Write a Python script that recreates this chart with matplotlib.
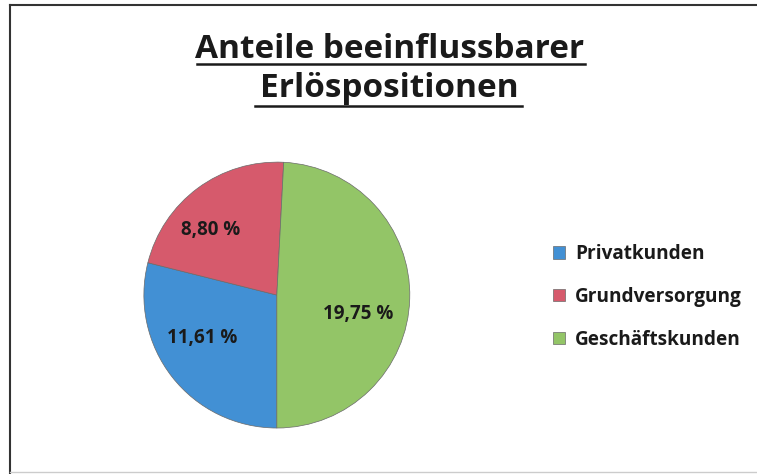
import matplotlib.pyplot as plt
from matplotlib.lines import Line2D

plt.rcParams['font.family'] = ['Open Sans', 'DejaVu Sans']

# data
categories = ['Privatkunden', 'Grundversorgung', 'Geschäftskunden']
values = [11.61, 8.80, 19.75]
colors = ['#4290d4', '#d65a6c', '#93c567']
title = 'Anteile beeinflussbarer\nErlöspositionen'

total = sum(values)


def fmt_value(pct):
    return '{:.2f} %'.format(pct * total / 100).replace('.', ',')


fig = plt.figure(figsize=(7.57, 4.74), dpi=100)

# pie axes (center ~ (277, 295) px, radius ~133 px)
ax = fig.add_axes([0.190, 0.097, 0.3514, 0.561])
wedges, texts, autotexts = ax.pie(values, colors=colors, startangle=270,
                                  counterclock=False, autopct=fmt_value,
                                  pctdistance=0.66, radius=1.0,
                                  wedgeprops=dict(linewidth=0.5, edgecolor='#6a6a6a'),
                                  textprops=dict(fontsize=13.5, fontweight='bold',
                                                 color='#1a1a1a'))
# label spots as in the original (Excel puts them a bit off the mid angle)
label_pos = [(-0.56, -0.32), (-0.50, 0.49), (0.61, -0.14)]
for t, p in zip(autotexts, label_pos):
    t.set_position(p)
ax.set_aspect('equal')
ax.set_xlim(-1.0, 1.0)
ax.set_ylim(-1.0, 1.0)

fig.text(0.514, 0.855, title, ha='center', va='center', fontsize=24,
         fontweight='bold', color='#1a1a1a', linespacing=1.24)
# underline for each title line
fig.add_artist(Line2D([0.260, 0.773], [0.866, 0.866], color='#1a1a1a', lw=1.8))
fig.add_artist(Line2D([0.337, 0.690], [0.776, 0.776], color='#1a1a1a', lw=1.8))

leg = fig.legend(wedges, categories, loc='center left',
                 bbox_to_anchor=(0.708, 0.374), frameon=False,
                 prop=dict(size=13.7, weight='bold'), labelspacing=1.2,
                 handlelength=0.65, handleheight=0.65, handletextpad=0.5)
for t in leg.get_texts():
    t.set_color('#1a1a1a')

# frame lines of the scanned chart
fig.add_artist(Line2D([0.0132, 0.0132], [0.0, 0.99], color='#333333', lw=1.5))
fig.add_artist(Line2D([0.0132, 1.0], [0.99, 0.99], color='#333333', lw=1.5))
fig.add_artist(Line2D([0.0132, 1.0], [0.004, 0.004], color='#cccccc', lw=1.0))

fig.savefig('out.png', dpi=100)
